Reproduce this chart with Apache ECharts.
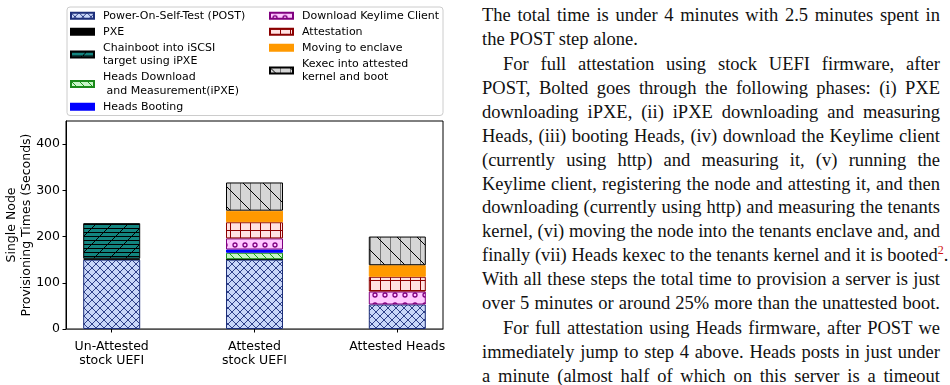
<!DOCTYPE html>
<html>
<head>
<meta charset="utf-8">
<script src="https://cdn.jsdelivr.net/npm/echarts@6/dist/echarts.min.js"></script>
<style>
html,body{margin:0;padding:0;background:#fff;width:950px;height:385px;overflow:hidden;}
#chart{position:absolute;left:0;top:0;width:460px;height:385px;}
.para{position:absolute;left:482px;width:458px;font-family:"Liberation Serif","Times New Roman",serif;font-size:18.5px;line-height:24px;color:#111;}
.para div{white-space:nowrap;}
.j{text-align:justify;text-align-last:justify;}
.l{text-align:left;}
.ind{padding-left:21px;}
sup{color:#d01010;font-size:12px;line-height:0;}
</style>
</head>
<body>
<div id="chart"></div>
<div class="para" style="top:3px">
<div class="j">The total time is under 4 minutes with 2.5 minutes spent in</div>
<div class="l">the POST step alone.</div>
</div>
<div class="para" style="top:53px;line-height:23.9px">
<div class="j ind">For full attestation using stock UEFI firmware, after</div>
<div class="j">POST, Bolted goes through the following phases: (i) PXE</div>
<div class="j">downloading iPXE, (ii) iPXE downloading and measuring</div>
<div class="j">Heads, (iii) booting Heads, (iv) download the Keylime client</div>
<div class="j">(currently using http) and measuring it, (v) running the</div>
<div class="j">Keylime client, registering the node and attesting it, and then</div>
<div class="j">downloading (currently using http) and measuring the tenants</div>
<div class="j">kernel, (vi) moving the node into the tenants enclave and, and</div>
<div class="j">finally (vii) Heads kexec to the tenants kernel and it is booted<sup>2</sup>.</div>
<div class="j">With all these steps the total time to provision a server is just</div>
<div class="j">over 5 minutes or around 25% more than the unattested boot.</div>
</div>
<div class="para" style="top:316.3px">
<div class="j ind">For full attestation using Heads firmware, after POST we</div>
<div class="j">immediately jump to step 4 above. Heads posts in just under</div>
<div class="j">a minute (almost half of which on this server is a timeout</div>
</div>
<script>
// ---- data ----
const categories = ['Un-Attested\nstock UEFI', 'Attested\nstock UEFI', 'Attested Heads'];
const phaseNames = [
  'Power-On-Self-Test (POST)',
  'PXE',
  'Chainboot into iSCSI\ntarget using iPXE',
  'Heads Download\n and Measurement(iPXE)',
  'Heads Booting',
  'Download Keylime Client',
  'Attestation',
  'Moving to enclave',
  'Kexec into attested\nkernel and boot'
];
const post            = [150, 150, 53];
const pxe             = [2, 1, 0];
const chainboot       = [77, 0, 0];
const headsDownload   = [0, 14, 0];
const headsBooting    = [0, 7, 0];
const downloadKeylime = [0, 24, 28];
const attestation     = [0, 35, 32];
const movingToEnclave = [0, 25, 25];
const kexec           = [0, 61, 62];
const yTicks = [0, 100, 200, 300, 400];

// ---- patterns ----
function pat(w, h, bg, stroke, lw, draw) {
  const c = document.createElement('canvas');
  c.width = w; c.height = h;
  const g = c.getContext('2d');
  g.fillStyle = bg; g.fillRect(0, 0, w, h);
  g.strokeStyle = stroke; g.lineWidth = lw;
  if (draw) draw(g, w, h);
  return { image: c, repeat: 'repeat' };
}
function fwd(g, s) { g.beginPath(); [-s, 0, s].forEach(k => { g.moveTo(k, s); g.lineTo(k + s, 0); }); g.stroke(); }
function back(g, s) { g.beginPath(); [-s, 0, s].forEach(k => { g.moveTo(k, 0); g.lineTo(k + s, s); }); g.stroke(); }

const styles = [
  { color: pat(8, 8, '#c9d7f8', '#1d2f7a', 0.9, (g, w) => { fwd(g, w); back(g, w); }), border: '#1d2f7a' },
  { color: '#000000', border: '#000000' },
  { color: pat(16, 16, '#138580', '#000', 1, (g, w, h) => {
      g.beginPath(); for (let y = 0.5; y < h; y += 4) { g.moveTo(0, y); g.lineTo(w, y); } g.stroke();
      g.strokeStyle = '#000'; fwd(g, w);
    }), border: '#000000' },
  { color: pat(8, 8, '#c8f5c8', '#1a9a1a', 1, (g, w) => back(g, w)), border: '#1a8a1a' },
  { color: '#0000ff', border: '#0000ff' },
  { color: pat(10, 10, '#ffc8ff', '#800080', 1.3, (g) => { g.beginPath(); g.arc(5, 5, 2, 0, Math.PI * 2); g.stroke(); }), border: '#800080' },
  { color: pat(10, 10, '#ffe2e2', '#8b0000', 1, (g, w, h) => {
      g.beginPath(); g.moveTo(0.5, 0); g.lineTo(0.5, h); g.moveTo(0, 0.5); g.lineTo(w, 0.5); g.stroke();
    }), border: '#8b0000' },
  { color: '#ff9900', border: '#ff9900' },
  { color: pat(20, 20, '#d6d6d6', '#777', 1, (g, w, h) => {
      g.beginPath(); g.moveTo(0.5, 0); g.lineTo(0.5, h); g.moveTo(10.5, 0); g.lineTo(10.5, h); g.stroke();
      g.strokeStyle = '#000'; back(g, w);
    }), border: '#000000' }
];

const seriesValues = [post, pxe, chainboot, headsDownload, headsBooting, downloadKeylime, attestation, movingToEnclave, kexec];

// data as [value, categoryIndex] so that the stacked dimension is the value (y)
const series = seriesValues.map((vals, s) => ({
  name: phaseNames[s],
  type: 'bar',
  stack: 'total',
  barWidth: 57,
  encode: { x: 1, y: 0 },
  data: vals.map((v, i) => [v > 0 ? v : '-', i]),
  itemStyle: { color: styles[s].color, borderColor: styles[s].border, borderWidth: 1 },
  emphasis: { disabled: true },
  animation: false
}));

const font = 'DejaVu Sans';
const legendBase = {
  orient: 'vertical',
  itemWidth: 23,
  itemHeight: 6,
  itemGap: 2.5,
  icon: 'rect',
  padding: 0,
  selectedMode: false,
  textStyle: { fontFamily: font, fontSize: 11, color: '#000', lineHeight: 13.5, padding: [0, 0, 0, 4] }
};

const chart = echarts.init(document.getElementById('chart'), null, { renderer: 'canvas' });
chart.setOption({
  animation: false,
  backgroundColor: '#fff',
  grid: { left: 66, right: 17, top: 121, bottom: 56, show: true, borderColor: '#000', borderWidth: 1,
          containLabel: false, outerBoundsMode: 'none' },
  legend: [
    Object.assign({}, legendBase, { left: 70, top: 9, data: phaseNames.slice(0, 5) }),
    Object.assign({}, legendBase, { left: 269, top: 9, data: phaseNames.slice(5) })
  ],
  graphic: [{
    type: 'rect', left: 66.5, top: 6.5, z: -1,
    shape: { width: 376, height: 108.5, r: 3 },
    style: { fill: '#fff', stroke: '#cccccc', lineWidth: 1 }
  }],
  xAxis: {
    type: 'value', min: -0.32, max: 2.32,
    splitLine: { show: false },
    axisLine: { show: true, onZero: false, lineStyle: { color: '#555', width: 1 } },
    axisTick: { show: true, length: 3.5, lineStyle: { color: '#000' }, customValues: categories.map((_, i) => i) },
    axisLabel: {
      customValues: categories.map((_, i) => i),
      formatter: v => categories[Math.round(v)],
      fontFamily: font, fontSize: 12.5, color: '#000', lineHeight: 14, margin: 11
    }
  },
  yAxis: {
    type: 'value', min: 0, max: 450,
    name: 'Single Node\nProvisioning Times (Seconds)',
    nameLocation: 'middle', nameGap: 32, nameRotate: 90, nameMoveOverlap: false,
    nameTextStyle: { fontFamily: font, fontSize: 12.5, color: '#000', lineHeight: 15 },
    splitLine: { show: false },
    axisLine: { show: true, onZero: false, lineStyle: { color: '#000', width: 1 } },
    axisTick: { show: true, length: 3.5, lineStyle: { color: '#000' }, customValues: yTicks },
    axisLabel: { customValues: yTicks, fontFamily: font, fontSize: 12.5, color: '#000', margin: 6 }
  },
  series: series
});
</script>
</body>
</html>
